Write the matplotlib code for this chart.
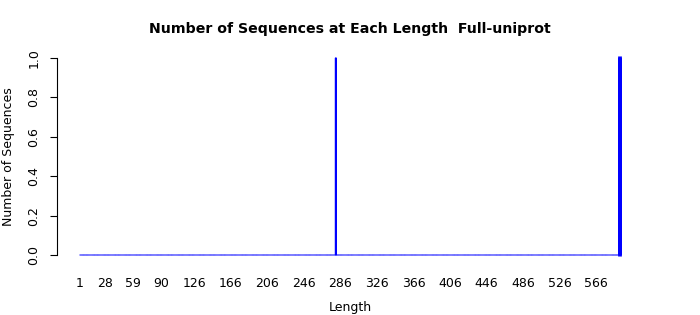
import numpy as np
import matplotlib
matplotlib.use("Agg")
import matplotlib.pyplot as plt

# Observed sequence lengths (each occurs once)
seq_lengths = [281, 592]
# Length categories shown on the x axis (1 .. max length)
length_levels = list(range(1, 593))
# Labels R drew (others skipped for overlap)
shown_labels = [1, 28, 59, 90, 126, 166, 206, 246, 286, 326, 366, 406, 446, 486, 526, 566]
y_ticks = [0.0, 0.2, 0.4, 0.6, 0.8, 1.0]

counts = [seq_lengths.count(l) for l in length_levels]

W, H = 700, 315
fig = plt.figure(figsize=(W / 100, H / 100), dpi=100)
ax_l, ax_r, ax_t, ax_b = 57, 643, 50, 263
ax = fig.add_axes([ax_l / W, 1 - ax_b / H, (ax_r - ax_l) / W, (ax_b - ax_t) / H])

bars = ax.bar(length_levels, counts, width=0.8, color="blue", edgecolor="blue", linewidth=1.0)
for b in bars:
    b.set_snap(False)
# the last bar appears heavier in the reference
bars[-1].set_linewidth(2.2)

ppc = (620 - 80) / (592 - 1)
ax.set_xlim(1 - (80 - ax_l) / ppc, 592 + (ax_r - 620) / ppc)
yr = (255 - 58)
ax.set_ylim(-(ax_b - 255) / yr, 1 + (58 - ax_t) / yr)

for s in ["top", "right", "bottom"]:
    ax.spines[s].set_visible(False)
ax.spines["left"].set_bounds(0, 1)
ax.spines["left"].set_linewidth(0.8)

ax.set_xticks(shown_labels)
ax.set_xticklabels([str(v) for v in shown_labels], fontsize=9)
ax.tick_params(axis="x", length=0, pad=10)
ax.set_yticks(y_ticks)
ax.set_yticklabels([f"{v:.1f}" for v in y_ticks], fontsize=9, rotation=90, va="center")
ax.tick_params(axis="y", length=5, width=0.8, pad=7)

fig.text(350 / W, 1 - 29 / H, "Number of Sequences at Each Length  Full-uniprot",
         ha="center", va="center", fontsize=10.2, fontweight="bold")
fig.text(350 / W, 1 - 307 / H, "Length", ha="center", va="center", fontsize=9)
fig.text(9 / W, 1 - 157 / H, "Number of Sequences", ha="center", va="center", fontsize=9, rotation=90)

fig.savefig("out.png", dpi=100)
